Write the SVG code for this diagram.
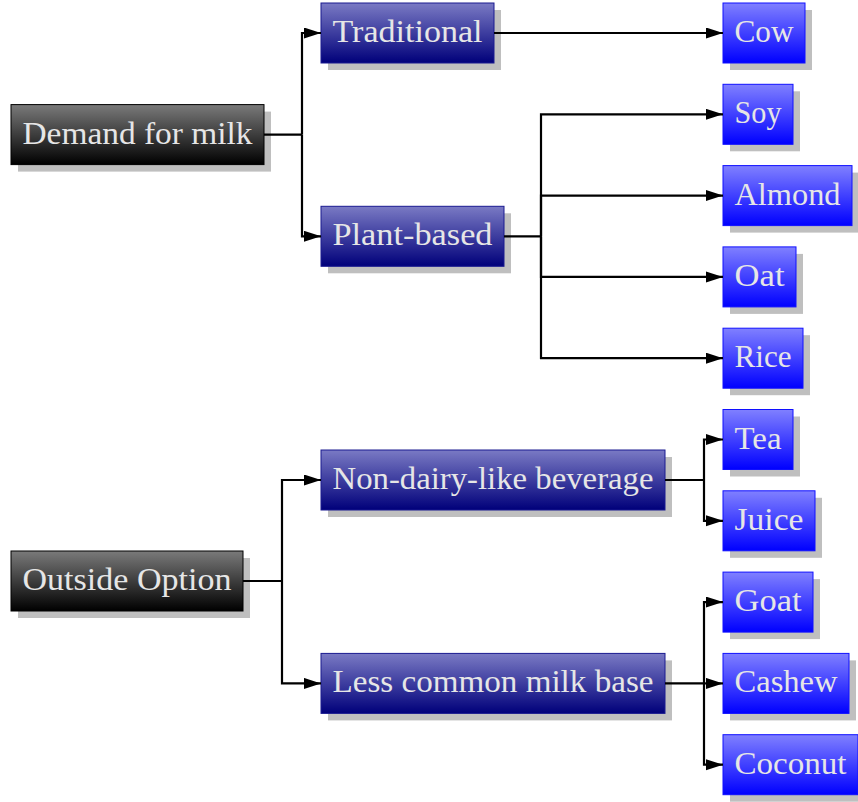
<svg xmlns="http://www.w3.org/2000/svg" width="858" height="802" viewBox="0 0 858 802">
<defs>
<linearGradient id="gRoot" x1="0" y1="0" x2="0" y2="1"><stop offset="0" stop-color="#7a7a7a"/><stop offset="1" stop-color="#000000"/></linearGradient>
<linearGradient id="gMid" x1="0" y1="0" x2="0" y2="1"><stop offset="0" stop-color="#7a7ac4"/><stop offset="1" stop-color="#00007a"/></linearGradient>
<linearGradient id="gLeaf" x1="0" y1="0" x2="0" y2="1"><stop offset="0" stop-color="#8080ff"/><stop offset="1" stop-color="#0000ff"/></linearGradient>
<marker id="arr" markerUnits="userSpaceOnUse" markerWidth="18" markerHeight="12" refX="17" refY="5.5" orient="auto"><path d="M0,0 L17,5.5 L0,11 z" fill="#000"/></marker>
<style>
.sh{fill:#bfbfbf}
.root{fill:url(#gRoot);stroke:#000;stroke-width:1}
.mid{fill:url(#gMid);stroke:#1a1a90;stroke-width:1}
.leaf{fill:url(#gLeaf);stroke:#1010ff;stroke-width:1}
text{font-family:"Liberation Serif","DejaVu Serif",serif;font-size:32px;fill:#e6e6e6;text-anchor:middle}
.c{fill:none;stroke:#000;stroke-width:2.2;marker-end:url(#arr)}
.cn{fill:none;stroke:#000;stroke-width:2.2}
</style>
</defs>
<g id="demand"><rect class="sh" x="18" y="111.6" width="253" height="60"/><rect class="root" x="11" y="104.6" width="253" height="60"/><text x="137.5" y="143.6" textLength="230" lengthAdjust="spacingAndGlyphs">Demand for milk</text></g>
<g id="outside"><rect class="sh" x="18" y="558" width="232" height="60"/><rect class="root" x="11" y="551" width="232" height="60"/><text x="127" y="590" textLength="209" lengthAdjust="spacingAndGlyphs">Outside Option</text></g>
<g id="traditional"><rect class="sh" x="328" y="10" width="173" height="60"/><rect class="mid" x="321" y="3" width="173" height="60"/><text x="407.5" y="42" textLength="150" lengthAdjust="spacingAndGlyphs">Traditional</text></g>
<g id="plant"><rect class="sh" x="328" y="213.3" width="183" height="60"/><rect class="mid" x="321" y="206.3" width="183" height="60"/><text x="412.5" y="245.3" textLength="160" lengthAdjust="spacingAndGlyphs">Plant-based</text></g>
<g id="nondairy"><rect class="sh" x="328" y="457" width="344" height="60"/><rect class="mid" x="321" y="450" width="344" height="60"/><text x="493" y="489" textLength="321" lengthAdjust="spacingAndGlyphs">Non-dairy-like beverage</text></g>
<g id="lesscommon"><rect class="sh" x="328" y="660.4" width="344" height="60"/><rect class="mid" x="321" y="653.4" width="344" height="60"/><text x="493" y="692.4" textLength="321" lengthAdjust="spacingAndGlyphs">Less common milk base</text></g>
<g id="cow"><rect class="sh" x="730" y="10" width="82" height="60"/><rect class="leaf" x="723" y="3" width="82" height="60"/><text x="764" y="42" textLength="59" lengthAdjust="spacingAndGlyphs">Cow</text></g>
<g id="soy"><rect class="sh" x="730" y="91.3" width="70" height="60"/><rect class="leaf" x="723" y="84.3" width="70" height="60"/><text x="758" y="123.3" textLength="47" lengthAdjust="spacingAndGlyphs">Soy</text></g>
<g id="almond"><rect class="sh" x="730" y="172.6" width="129" height="60"/><rect class="leaf" x="723" y="165.6" width="129" height="60"/><text x="787.5" y="204.6" textLength="106" lengthAdjust="spacingAndGlyphs">Almond</text></g>
<g id="oat"><rect class="sh" x="730" y="253.9" width="73" height="60"/><rect class="leaf" x="723" y="246.9" width="73" height="60"/><text x="759.5" y="285.9" textLength="50" lengthAdjust="spacingAndGlyphs">Oat</text></g>
<g id="rice"><rect class="sh" x="730" y="335.2" width="80" height="60"/><rect class="leaf" x="723" y="328.2" width="80" height="60"/><text x="763" y="367.2" textLength="57" lengthAdjust="spacingAndGlyphs">Rice</text></g>
<g id="tea"><rect class="sh" x="730" y="416.5" width="70" height="60"/><rect class="leaf" x="723" y="409.5" width="70" height="60"/><text x="758" y="448.5" textLength="47" lengthAdjust="spacingAndGlyphs">Tea</text></g>
<g id="juice"><rect class="sh" x="730" y="497.8" width="92" height="60"/><rect class="leaf" x="723" y="490.8" width="92" height="60"/><text x="769" y="529.8" textLength="69" lengthAdjust="spacingAndGlyphs">Juice</text></g>
<g id="goat"><rect class="sh" x="730" y="579.1" width="90" height="60"/><rect class="leaf" x="723" y="572.1" width="90" height="60"/><text x="768" y="611.1" textLength="67" lengthAdjust="spacingAndGlyphs">Goat</text></g>
<g id="cashew"><rect class="sh" x="730" y="660.4" width="126" height="60"/><rect class="leaf" x="723" y="653.4" width="126" height="60"/><text x="786" y="692.4" textLength="103" lengthAdjust="spacingAndGlyphs">Cashew</text></g>
<g id="coconut"><rect class="sh" x="730" y="741.7" width="135" height="60"/><rect class="leaf" x="723" y="734.7" width="135" height="60"/><text x="790.5" y="773.7" textLength="112" lengthAdjust="spacingAndGlyphs">Coconut</text></g>
<g id="connectors">
<path class="cn" d="M264,134.6 H302"/>
<path class="c" d="M302,134.6 V33 H321"/>
<path class="c" d="M302,134.6 V236.3 H321"/>
<path class="c" d="M494,33 H723"/>
<path class="cn" d="M504,236.3 H541"/>
<path class="c" d="M541,236.3 V114.3 H723"/>
<path class="c" d="M541,236.3 V195.6 H723"/>
<path class="c" d="M541,236.3 V276.9 H723"/>
<path class="c" d="M541,236.3 V358.2 H723"/>
<path class="cn" d="M243,581 H282"/>
<path class="c" d="M282,581 V480 H321"/>
<path class="c" d="M282,581 V683.4 H321"/>
<path class="cn" d="M665,480 H704"/>
<path class="c" d="M704,480 V439.5 H723"/>
<path class="c" d="M704,480 V520.8 H723"/>
<path class="cn" d="M665,683.4 H704"/>
<path class="c" d="M704,683.4 V602.1 H723"/>
<path class="c" d="M704,683.4 H723"/>
<path class="c" d="M704,683.4 V764.7 H723"/>
</g>
</svg>
